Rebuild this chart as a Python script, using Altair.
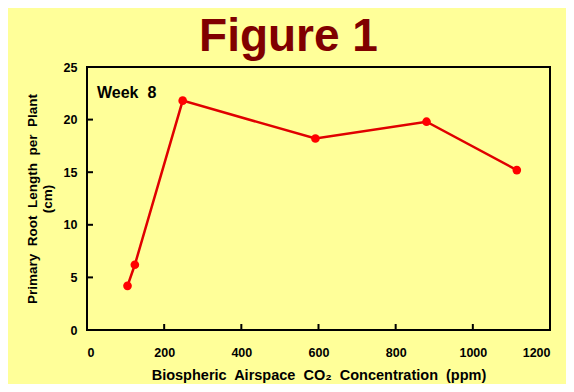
import altair as alt
import pandas as pd

co2 = [105, 124, 248, 592, 880, 1114]
root_len = [4.2, 6.2, 21.8, 18.2, 19.8, 15.2]
x_ticks = [200, 400, 600, 800, 1000]
y_ticks = [5, 10, 15, 20]

df = pd.DataFrame({"co2": co2, "len": root_len})
xt = pd.DataFrame({"v": x_ticks})
yt = pd.DataFrame({"v": y_ticks})

BG = "#FFFF99"
FONT = "Liberation Sans"
S = "\u00a0 "

xscale = alt.Scale(domain=[0, 1200], nice=False)
yscale = alt.Scale(domain=[0, 25], nice=False)

xaxis = alt.Axis(values=[0, 200, 400, 600, 800, 1000, 1200], format="d", ticks=False, domain=False, grid=False,
                 labelFont=FONT, labelFontWeight="bold", labelFontSize=12.5, labelColor="black",
                 labelPadding=16, title=f"Biospheric{S}Airspace{S}CO₂{S}Concentration{S}(ppm)",
                 titleFont=FONT, titleFontWeight="bold", titleFontSize=14.5, titleColor="black",
                 titlePadding=10)
yaxis = alt.Axis(values=[0, 5, 10, 15, 20, 25], ticks=False, domain=False, grid=False,
                 labelFont=FONT, labelFontWeight="bold", labelFontSize=12.5, labelColor="black",
                 labelPadding=10, title=[f"Primary{S}Root{S}Length{S}per{S}Plant", "(cm)"],
                 titleFont=FONT, titleFontWeight="bold", titleFontSize=13.5, titleColor="black",
                 titlePadding=9, titleLineHeight=15)

line = alt.Chart(df).mark_line(color="#E00000", strokeWidth=2.5).encode(
    x=alt.X("co2:Q", scale=xscale, axis=xaxis),
    y=alt.Y("len:Q", scale=yscale, axis=yaxis),
)
pts = alt.Chart(df).mark_circle(color="#FF0000", size=75, opacity=1).encode(
    x=alt.X("co2:Q", scale=xscale),
    y=alt.Y("len:Q", scale=yscale),
)
xtick = alt.Chart(xt).mark_rule(color="black", strokeWidth=2).encode(
    x=alt.X("v:Q", scale=xscale), y=alt.value(263), y2=alt.value(257)
)
ytick = alt.Chart(yt).mark_rule(color="black", strokeWidth=2).encode(
    y=alt.Y("v:Q", scale=yscale), x=alt.value(0), x2=alt.value(6)
)
week = alt.Chart(pd.DataFrame({"t": ["Week\u00a0 8"]})).mark_text(
    font=FONT, fontWeight="bold", fontSize=16, color="black", align="left", baseline="alphabetic"
).encode(text="t:N", x=alt.value(10), y=alt.value(31))

chart = alt.layer(ytick, xtick, line, pts, week).properties(
    width=463, height=263,
    background=BG,
    padding={"left": 79, "top": 59, "right": 16, "bottom": 54},
    autosize=alt.AutoSizeParams(type="none"),
    title=alt.TitleParams("Figure 1", font=FONT, fontWeight="bold", fontSize=46, color="#800000",
                          anchor="middle", dx=-30, offset=0),
).configure_view(stroke="black", strokeWidth=2, fill=BG)

chart.save("out.html", embed_options={"renderer": "svg", "actions": False})
